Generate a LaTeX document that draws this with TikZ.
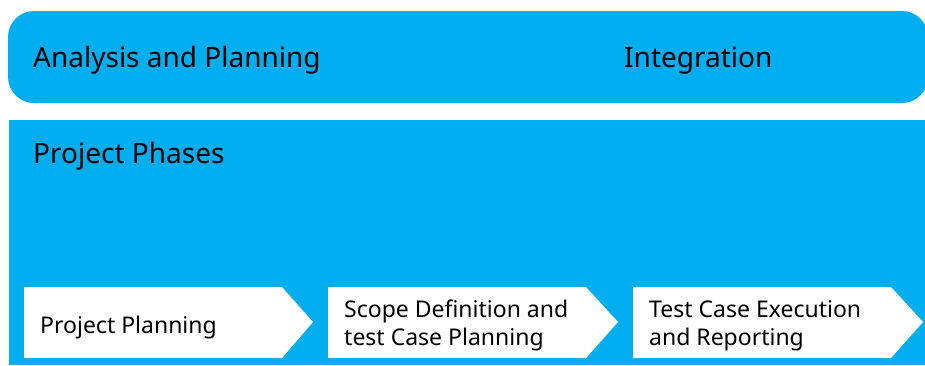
\documentclass[tikz,border=0pt]{standalone}
\usepackage{fontspec}
\setmainfont{Noto Sans}
\usetikzlibrary{calc}
\definecolor{cyanbg}{RGB}{0,174,239}
\tikzset{
  band/.style={fill=cyanbg, draw=none},
  title/.style={anchor=base west, inner sep=0pt, font=\fontsize{28}{32}\selectfont, text=black},
  chevtext/.style={anchor=base west, inner sep=0pt, align=left, font=\fontsize{23}{28}\selectfont, text=black},
  chev/.style={fill=white, draw=none}
}
\begin{document}
\begin{tikzpicture}[x=1pt,y=-1pt]
\useasboundingbox (0,0) rectangle (925,365);
% top band
\fill[band, rounded corners=26pt] (8,11) rectangle (928,103);
\node[title] (ap) at (33,67) {Analysis and Planning};
\node[title] (int) at (624,67) {Integration};
% project phases panel
\fill[band] (9,120) rectangle (925,365);
\node[title] (pp) at (33,163) {Project Phases};
% chevrons
\fill[chev] (24,287) -- (282,287) -- (313,322) -- (282,358) -- (24,358) -- cycle;
\fill[chev] (328,287) -- (586,287) -- (618,322) -- (586,358) -- (328,358) -- cycle;
\fill[chev] (633,287) -- (891,287) -- (923,322) -- (891,358) -- (633,358) -- cycle;
\node[chevtext] (c1) at (40,333) {Project Planning};
\node[chevtext] (c2) at (344,345) {Scope Definition and\\test Case Planning};
\node[chevtext] (c3) at (649,345) {Test Case Execution\\and Reporting};
\end{tikzpicture}
\end{document}
